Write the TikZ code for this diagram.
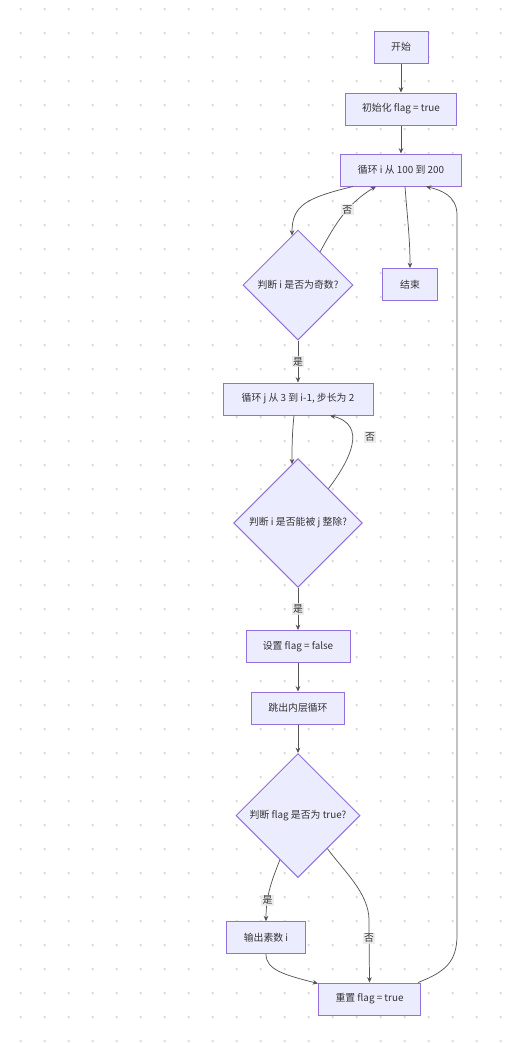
\documentclass[tikz,border=0pt]{standalone}
\usepackage{fontspec}
\setmainfont{Noto Sans CJK SC}
\usetikzlibrary{shapes.geometric,calc,arrows.meta}
\definecolor{fondboite}{HTML}{ECECFF}
\definecolor{bord}{HTML}{9370DB}
\definecolor{trait}{HTML}{333333}
\definecolor{ligne}{HTML}{555555}
\definecolor{etiq}{HTML}{E8E8E8}
\definecolor{point}{HTML}{DCDCDC}
\tikzset{
  texte/.style={text=trait, font=\fontsize{7.4}{9}\selectfont},
  boite/.style={texte, draw=bord, fill=fondboite, line width=0.75pt, minimum height=24pt, inner sep=0pt},
  losange/.style={texte, diamond, aspect=1, draw=bord, fill=fondboite, line width=0.75pt, inner sep=0pt},
  fleche/.style={draw=ligne, line width=0.55pt, -{Stealth[length=4pt,width=3.5pt]}},
  etiquette/.style={texte, fill=etiq, fill opacity=0.8, text opacity=1, inner sep=1pt}
}
\begin{document}
\begin{tikzpicture}[x=0.75pt,y=-0.75pt]
% Fond : grille de points (24 px)
\def\pas{24}
\fill[white] (0,0) rectangle (514,1043);
\useasboundingbox (0,0) rectangle (514,1043);
\foreach \i in {0,...,20}
  \foreach \j in {0,...,43}
    \fill[point] (20.7+\pas*\i, 9+\pas*\j) circle (1pt);

% Les noeuds
\node[boite, minimum width=40.5pt] (debut) at (401,47) {开始};
\node[boite, minimum width=83pt] (init) at (401,109) {初始化 flag = true};
\node[boite, minimum width=90.5pt] (boucleI) at (401,170) {循环 i 从 100 到 200};
\node[losange, minimum width=82.5pt, minimum height=82.5pt] (impair) at (298,285) {判断 i 是否为奇数?};
\node[boite, minimum width=41pt] (fin) at (410,284.5) {结束};
\node[boite, minimum width=112.5pt] (boucleJ) at (298,399) {循环 j 从 3 到 i-1, 步长为 2};
\node[losange, minimum width=96.5pt, minimum height=96.5pt] (divise) at (298,523) {判断 i 是否能被 j 整除?};
\node[boite, minimum width=78pt] (pose) at (298,646.5) {设置 flag = false};
\node[boite, minimum width=70pt] (sortie) at (298,708) {跳出内层循环};
\node[losange, minimum width=93pt, minimum height=93pt] (testflag) at (298,815.5) {判断 flag 是否为 true?};
\node[boite, minimum width=59.5pt] (affiche) at (266,937.7) {输出素数 i};
\node[boite, minimum width=76.5pt] (remise) at (369.5,999) {重置 flag = true};

% Les fleches
\draw[fleche] (debut) -- (init);
\draw[fleche] (init) -- (boucleI);
\draw[fleche] ($(boucleI.south)+(-48,0)$) .. controls (305,198) and (292,206) .. ($(impair.north)+(-6,6)$);
\draw[fleche] ($(impair.north)!0.4!(impair.east)$) .. controls (335,224) and (348,203) .. ($(boucleI.south)+(-25,0)$)
  node[etiquette, pos=0.58] (nonA) {否};
\draw[fleche] ($(boucleI.south)+(4,0)$) .. controls (408,225) and (410,240) .. (fin.north);
\draw[fleche] (impair) -- (boucleJ) node[etiquette, midway] (ouiA) {是};
\draw[fleche] ($(boucleJ.south)+(-4,0)$) .. controls (292,435) and (292,448) .. ($(divise.north)+(-6,6)$);
\draw[fleche] ($(divise.north)!0.47!(divise.east)$) .. controls (350,460) and (368,425) .. ($(boucleJ.south)+(32,0)$);
\node[etiquette] (nonB) at (370,437) {否};
\draw[fleche] (divise) -- (pose) node[etiquette, midway] (ouiB) {是};
\draw[fleche] (pose) -- (sortie);
\draw[fleche] (sortie) -- (testflag);
\draw[fleche] ($(testflag.west)!0.71!(testflag.south)$) .. controls (272,880) and (266,895) .. (affiche.north)
  node[etiquette, pos=0.7] (ouiC) {是};
\draw[fleche] ($(testflag.south)!0.47!(testflag.east)$) .. controls (343,870) and (369,893) .. (369,920) -- (remise.north)
  node[etiquette, pos=0.29] (nonC) {否};
\draw[fleche] (affiche.south) .. controls (266,970) and (285,975) .. ($(remise.north west)+(0,1)$);
\draw[fleche] ($(remise.north east)+(-3,0)$) .. controls (445,972) and (457,962) .. (457,935) -- (457,215)
  .. controls (457,195) and (440,190) .. ($(boucleI.south)+(25,0)$);
\end{tikzpicture}
\end{document}
